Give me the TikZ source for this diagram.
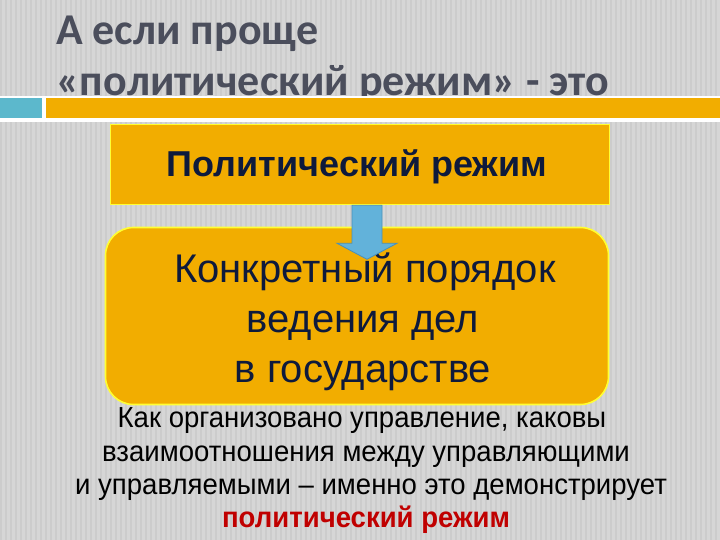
\documentclass[tikz,border=0pt]{standalone}
\usepackage{fontspec}
\usetikzlibrary{calc}
\setmainfont{Liberation Sans}
\newfontfamily\titlefont{Carlito}
\newfontfamily\narrowfont[FakeStretch=0.95]{Liberation Sans}
\definecolor{bgray}{HTML}{D6D6D6}
\definecolor{stripe}{HTML}{CCCCCC}
\definecolor{titlec}{HTML}{4B4E5C}
\definecolor{gold}{HTML}{F2AD00}
\definecolor{yel}{HTML}{FFFF33}
\definecolor{navy}{HTML}{0E1A3C}
\definecolor{barblue}{HTML}{5CB8CC}
\definecolor{arrblue}{HTML}{62B2DA}
\definecolor{arredge}{HTML}{4A90B8}
\definecolor{redc}{HTML}{C00000}
\begin{document}
\begin{tikzpicture}[x=1pt,y=-1pt,
  goldbox/.style={draw=yel, line width=1.6pt, fill=gold, inner sep=0pt},
  titletext/.style={anchor=base west, text=titlec, font=\titlefont\bfseries\fontsize{44}{50}\selectfont, inner sep=0pt},
  boxtext/.style={anchor=base, text=navy, font=\fontsize{40}{46}\selectfont, inner sep=0pt},
  bottomtext/.style={anchor=base, text=black, font=\narrowfont\fontsize{29}{34}\selectfont, inner sep=0pt}]
\useasboundingbox (0,0) rectangle (720,540);
\fill[bgray] (0,0) rectangle (720,540);
\foreach \i in {0,5,...,720} {\fill[stripe] (\i,0) rectangle (\i+1.6,540);}
% title
\node[titletext] (title1) at (56,45) {А если проще};
\node[titletext] (title2) at (56,95.5) {«политический режим» - это};
% bars
\fill[white] (0,96.5) rectangle (720,122);
\fill[barblue] (0,98.5) rectangle (42,118);
\fill[gold] (46,98.5) rectangle (720,118);
% top box
\node[goldbox, minimum width=499pt, minimum height=80pt] (top) at (360,164.5) {};
\node[anchor=base, text=navy, font=\bfseries\fontsize{36}{40}\selectfont, inner sep=0pt] (toptext) at (357,177) {Политический режим};
% rounded box
\node[goldbox, rounded corners=28pt, minimum width=503pt, minimum height=177pt] (main) at (357,316) {};
\node[boxtext] (m1) at (365,282) {Конкретный порядок};
\node[boxtext] (m2) at (363,332) {ведения дел};
\node[boxtext] (m3) at (363,382) {в государстве};
% arrow
\draw[fill=arrblue, draw=arredge, line width=0.8pt, line join=miter]
  ($(top.south)+(-8,0)$) -- ($(top.south)+(22,0)$) -- ($(top.south)+(22,38)$) -- ($(top.south)+(37,38)$)
  -- ($(top.south)+(7,54)$) -- ($(top.south)+(-23,38)$) -- ($(top.south)+(-8,38)$) -- cycle;
% bottom text
\node[bottomtext] (b1) at (362,427) {Как организовано управление, каковы};
\node[bottomtext] (b2) at (366,461) {взаимоотношения между управляющими};
\node[bottomtext] (b3) at (371,494) {и управляемыми – именно это демонстрирует};
\node[anchor=base, text=redc, font=\narrowfont\bfseries\fontsize{29}{34}\selectfont, inner sep=0pt] (b4) at (366,527) {политический режим};
\end{tikzpicture}
\end{document}
